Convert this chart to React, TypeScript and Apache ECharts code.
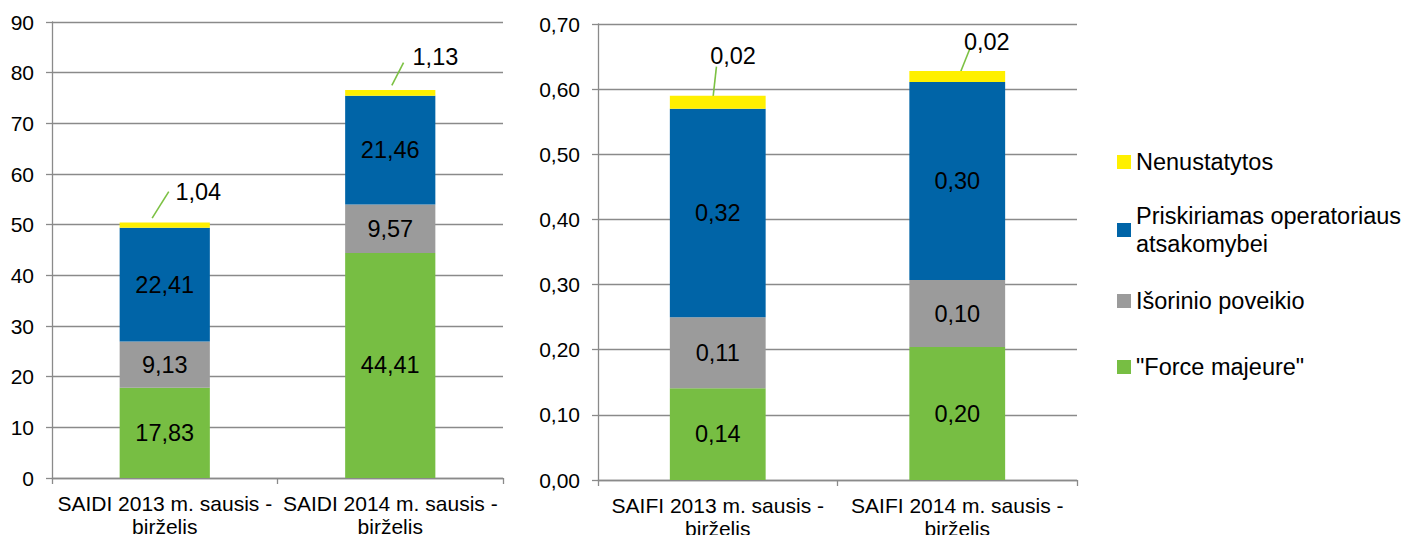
import React, { useEffect, useRef } from "react";
import * as echarts from "echarts";

// ---- data ----
const saidiCategories = ["SAIDI 2013 m. sausis - birželis", "SAIDI 2014 m. sausis - birželis"];
const saifiCategories = ["SAIFI 2013 m. sausis - birželis", "SAIFI 2014 m. sausis - birželis"];
const seriesNames = ['"Force majeure"', "Išorinio poveikio", "Priskiriamas operatoriaus atsakomybei", "Nenustatytos"];

const saidiForce = [17.83, 44.41];
const saidiIsorinio = [9.13, 9.57];
const saidiPriskiriamas = [22.41, 21.46];
const saidiNenustatytos = [1.04, 1.13];

const saifiForce = [0.141, 0.204];
const saifiIsorinio = [0.109, 0.103];
const saifiPriskiriamas = [0.32, 0.304];
const saifiNenustatytos = [0.02, 0.017];

const saidiTicks = { min: 0, max: 90, interval: 10 };
const saifiTicks = { min: 0, max: 0.7, interval: 0.1 };

// ---- styles ----
const FONT = "'Liberation Sans', Arial, sans-serif";
const colors = ["#77BE43", "#9B9B9B", "#0064A7", "#FFF000"];
const AXIS_GRAY = "#8A8A8A";

const fmt = (v: number) => v.toFixed(2).replace(".", ",");

// callout layout offsets (pixels, relative to stack top centre)
const callouts = [
  { grid: 0, idx: 0, line: [-12.6, -4.4, 4, -31], text: [10.7, -30.4], align: "left" },
  { grid: 0, idx: 1, line: [1.6, -4.6, 13.3, -27.5], text: [22.3, -32.6], align: "left" },
  { grid: 1, idx: 0, line: [-4.9, 3.4, -1.3, -29], text: [15.3, -39.2], align: "center" },
  { grid: 1, idx: 1, line: [2.5, 3.1, 13.2, -23.7], text: [29.5, -29.3], align: "center" },
];

function buildOption() {
  const saidiSets = [saidiForce, saidiIsorinio, saidiPriskiriamas, saidiNenustatytos];
  const saifiSets = [saifiForce, saifiIsorinio, saifiPriskiriamas, saifiNenustatytos];

  const mkSeries = (sets: number[][], gi: number, stack: string) =>
    sets.map((d, i) => ({
      name: seriesNames[i],
      type: "bar",
      stack,
      xAxisIndex: gi,
      yAxisIndex: gi,
      barWidth: "40%",
      data: d,
      itemStyle: { color: colors[i] },
      label: {
        show: i < 3,
        position: "inside",
        fontSize: 23.5,
        fontFamily: FONT,
        color: "#000",
        formatter: (p: any) => fmt(p.value),
      },
      emphasis: { disabled: true },
    }));

  const xAxisBase = (gi: number, data: string[]) => ({
    type: "category",
    gridIndex: gi,
    data,
    axisLine: { lineStyle: { color: AXIS_GRAY, width: 1.3 } },
    axisTick: { show: true, length: 6, interval: 0, lineStyle: { color: AXIS_GRAY, width: 1.3 } },
    axisLabel: {
      interval: 0,
      margin: 14,
      fontSize: 21,
      lineHeight: 23,
      color: "#000",
      fontFamily: FONT,
      formatter: (v: string) => v.replace(" - ", " -\n"),
    },
  });

  const yAxisBase = (gi: number, t: any, f: (v: number) => string) => ({
    type: "value",
    gridIndex: gi,
    min: t.min,
    max: t.max,
    interval: t.interval,
    axisLine: { show: true, lineStyle: { color: AXIS_GRAY, width: 1.3 } },
    axisTick: { show: true, length: 6, lineStyle: { color: AXIS_GRAY, width: 1.3 } },
    splitLine: { lineStyle: { color: AXIS_GRAY, width: 1.3 } },
    axisLabel: { margin: 18, fontSize: 21, color: "#000", fontFamily: FONT, formatter: f },
  });

  const legendTops = [148, 188, 287, 353];
  const legendOrder = [3, 2, 1, 0];
  const legends = legendOrder.map((si, k) => ({
    data: [seriesNames[si]],
    orient: "vertical",
    left: 1117,
    top: legendTops[k],
    padding: 0,
    itemGap: 0,
    itemWidth: 14,
    itemHeight: 14,
    icon: "rect",
    selectedMode: false,
    formatter: (n: string) =>
      n === "Priskiriamas operatoriaus atsakomybei" ? "Priskiriamas operatoriaus\natsakomybei" : n,
    textStyle: {
      fontSize: 23.5,
      lineHeight: 28,
      color: "#000",
      fontFamily: FONT,
      padding: si === 2 ? [28, 0, 0, 0] : 0,
    },
  }));

  return {
    animation: false,
    backgroundColor: "#fff",
    textStyle: { fontFamily: FONT },
    grid: [
      { left: 52, top: 22, width: 451, height: 456, outerBoundsMode: "none", containLabel: false },
      { left: 598, top: 24, width: 479, height: 456, outerBoundsMode: "none", containLabel: false },
    ],
    legend: legends,
    xAxis: [xAxisBase(0, saidiCategories), xAxisBase(1, saifiCategories)],
    yAxis: [
      yAxisBase(0, saidiTicks, (v: number) => String(v)),
      yAxisBase(1, saifiTicks, (v: number) => fmt(v)),
    ],
    series: [...mkSeries(saidiSets, 0, "saidi"), ...mkSeries(saifiSets, 1, "saifi")],
  };
}

export default function App() {
  const ref = useRef<HTMLDivElement>(null);
  useEffect(() => {
    if (!ref.current) return;
    const chart = echarts.init(ref.current, null, { renderer: "svg" });
    chart.setOption(buildOption() as any);

    const stacks = [
      [saidiForce, saidiIsorinio, saidiPriskiriamas, saidiNenustatytos],
      [saifiForce, saifiIsorinio, saifiPriskiriamas, saifiNenustatytos],
    ];
    const graphics: any[] = [];
    callouts.forEach((c) => {
      const sets = stacks[c.grid];
      const total = sets.reduce((s, arr) => s + arr[c.idx], 0);
      const p = chart.convertToPixel({ gridIndex: c.grid } as any, [c.idx, total]) as number[];
      if (!p) return;
      const [x, y] = p;
      graphics.push({
        type: "line",
        silent: true,
        shape: { x1: x + c.line[0], y1: y + c.line[1], x2: x + c.line[2], y2: y + c.line[3] },
        style: { stroke: "#7CC143", lineWidth: 1.6 },
      });
      graphics.push({
        type: "text",
        silent: true,
        x: x + c.text[0],
        y: y + c.text[1],
        style: {
          text: fmt(sets[3][c.idx]),
          fontSize: 23.5,
          fontFamily: FONT,
          fill: "#000",
          align: c.align,
          verticalAlign: "middle",
          textAlign: c.align,
          textVerticalAlign: "middle",
        },
      });
    });
    chart.setOption({ graphic: graphics } as any);
    return () => chart.dispose();
  }, []);
  return (
    <div
      ref={ref}
      style={{ position: "fixed", left: 0, top: 0, width: 1408, height: 535, background: "#fff" }}
    />
  );
}
